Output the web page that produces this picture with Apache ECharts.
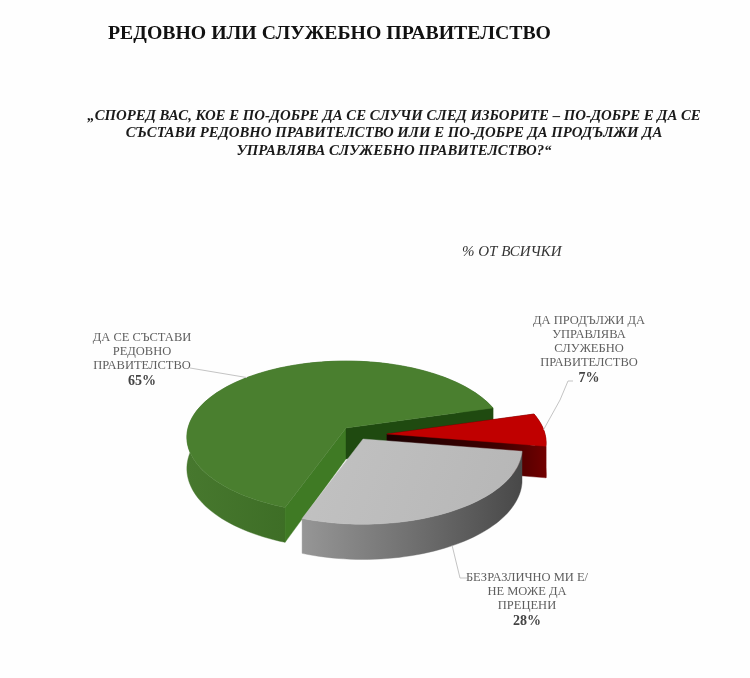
<!DOCTYPE html>
<html><head><meta charset="utf-8">
<style>html,body{margin:0;padding:0;background:#fff}#c{width:750px;height:678px}</style>
<script src="https://cdn.jsdelivr.net/npm/echarts@6/dist/echarts.min.js"></script>
</head><body><div id="c"></div>
<script>
const titleText = 'РЕДОВНО ИЛИ СЛУЖЕБНО ПРАВИТЕЛСТВО';
const questionText = '„СПОРЕД ВАС, КОЕ Е ПО-ДОБРЕ ДА СЕ СЛУЧИ СЛЕД ИЗБОРИТЕ – ПО-ДОБРЕ Е ДА СЕ\nСЪСТАВИ РЕДОВНО ПРАВИТЕЛСТВО ИЛИ Е ПО-ДОБРЕ ДА ПРОДЪЛЖИ ДА\nУПРАВЛЯВА СЛУЖЕБНО ПРАВИТЕЛСТВО?“';
const baseText = '% ОТ ВСИЧКИ';
const categories = ['ДА СЕ СЪСТАВИ\nРЕДОВНО\nПРАВИТЕЛСТВО', 'ДА ПРОДЪЛЖИ ДА\nУПРАВЛЯВА\nСЛУЖЕБНО\nПРАВИТЕЛСТВО', 'БЕЗРАЗЛИЧНО МИ Е/\nНЕ МОЖЕ ДА\nПРЕЦЕНИ'];
const values = [65, 7, 28];

const serif = '"Liberation Serif","Times New Roman",serif';
const CX = 346, CY = 428, R = 158, KR = 75, P = 0.12, DEPTH = 31, START = 200;
const explode = [[0, 0], [41, 6], [17, 11]];
const labelPos = [[142, 331], [589, 314], [527, 571]];
const leaderVia = [[[190, 368]], [[560, 400], [568, 381], [573, 381]], [[460, 578], [467, 578]]];
const showCut = [true, true, false];
const topFill = ['#4a7f2f', '#c00000',
  {type:'linear',x:0,y:0,x2:1,y2:1,colorStops:[{offset:0,color:'#c2c2c2'},{offset:1,color:'#b6b6b6'}]}];
const wallFill = [
  {type:'linear',x:0,y:0,x2:1,y2:0,colorStops:[{offset:0,color:'#47782e'},{offset:0.45,color:'#3a6a23'},{offset:1,color:'#3a6a23'}]},
  '#7a0000',
  {type:'linear',x:0,y:0,x2:1,y2:0,colorStops:[{offset:0,color:'#969696'},{offset:0.5,color:'#707070'},{offset:1,color:'#484848'}]}
];
const redCut = {type:'linear',x:0,y:0,x2:1,y2:0,colorStops:[{offset:0,color:'#1c0000'},{offset:0.7,color:'#3f0000'},{offset:0.87,color:'#5a0000'},{offset:1,color:'#720000'}]};
const cutFill = [['#3f7a24', '#1f4a10'], ['#3a0000', redCut], ['#8c8c8c', '#8c8c8c']];

const total = values.reduce((a, b) => a + b, 0);
function angles(i) {
  let a = START;
  for (let k = 0; k < i; k++) a += values[k] / total * 360;
  return [a, a + values[i] / total * 360];
}
function proj(deg, ox, oy, down) {
  const t = deg * Math.PI / 180, u = Math.sin(t), v = -Math.cos(t), w = 1 - P * v;
  return [CX + ox + R * u / w, CY + oy + KR * v / w + (down ? DEPTH / w : 0)];
}
function arc(a0, a1, ox, oy, down) {
  const pts = [], n = Math.ceil(Math.abs(a1 - a0) / 2);
  for (let j = 0; j <= n; j++) pts.push(proj(a0 + (a1 - a0) * j / n, ox, oy, down));
  return pts;
}
function renderSlice(params, api) {
  const i = params.dataIndex;
  const [a0, a1] = angles(i);
  const [ox, oy] = explode[i];
  const c = [CX + ox, CY + oy], cb = [c[0], c[1] + DEPTH];
  const top = arc(a0, a1, ox, oy, false), bot = arc(a0, a1, ox, oy, true);
  const kids = [];
  const poly = (points, fill) => kids.push({type:'polygon', shape:{points}, style:{fill, stroke:fill, lineWidth:0.4}});
  poly(top.concat(bot.slice().reverse()), wallFill[i]);
  if (showCut[i]) {
    poly([c, top[0], bot[0], cb], cutFill[i][0]);
    poly([c, top[top.length - 1], bot[bot.length - 1], cb], cutFill[i][1]);
  }
  poly([c].concat(top), topFill[i]);
  const mid = (a0 + a1) / 2;
  const anchor = proj(mid, ox, oy, i === 2);
  kids.push({type:'polyline', shape:{points:[anchor].concat(leaderVia[i])}, style:{stroke:'#c4c4c4', lineWidth:1, fill:null}});
  const lp = labelPos[i];
  kids.push({type:'text', style:{x:lp[0], y:lp[1], text:categories[i], font:'12.5px ' + serif, fill:'#5f5f5f', align:'center', verticalAlign:'top', lineHeight:14}});
  const lines = categories[i].split('\n').length;
  kids.push({type:'text', style:{x:lp[0], y:lp[1] + lines * 14 + 1, text:api.value(0) + '%', font:'bold 14px ' + serif, fill:'#444', align:'center', verticalAlign:'top'}});
  return {type:'group', children:kids};
}
const chart = echarts.init(document.getElementById('c'), null, {renderer:'canvas'});
chart.setOption({
  animation:false,
  backgroundColor:'#fefefe',
  title:[
    {text:titleText, left:108, top:24, padding:0, textStyle:{fontFamily:serif, fontWeight:'bold', fontSize:19.8, color:'#111'}},
    {text:questionText, left:394, top:107, padding:0, textAlign:'center', textStyle:{fontFamily:serif, fontWeight:'bold', fontStyle:'italic', fontSize:14.8, lineHeight:17.7, color:'#1a1a1a', align:'center'}},
    {text:baseText, left:462, top:245, padding:0, textStyle:{fontFamily:serif, fontStyle:'italic', fontWeight:'normal', fontSize:15, color:'#333'}}
  ],
  series:[{
    type:'custom', coordinateSystem:'none', renderItem:renderSlice,
    data:values.map((v, i) => ({name:categories[i], value:[v]}))
  }]
});
</script></body></html>
